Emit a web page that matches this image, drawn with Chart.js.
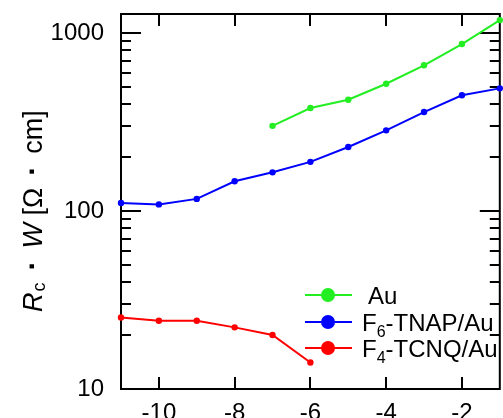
<!DOCTYPE html>
<html>
<head>
<meta charset="utf-8">
<title>Rc W vs x</title>
<script src="https://cdn.jsdelivr.net/npm/chart.js@4.4.1/dist/chart.umd.min.js"></script>
<style>
    html, body { margin: 0; padding: 0; background: #fff; }
    #wrap { width: 503px; height: 418px; position: relative; }
</style>
</head>
<body>
<div id="wrap"><canvas id="rcChart"></canvas></div>
<script>
// ==========================
// DATA
// ==========================
const auX = [-7, -6, -5, -4, -3, -2, -1];
const auY = [301, 379, 422, 519, 659, 868, 1183];

const tnapX = [-11, -10, -9, -8, -7, -6, -5, -4, -3, -2, -1];
const tnapY = [111, 109, 117, 147, 165, 189, 229, 284, 360, 447, 489];

const tcnqX = [-11, -10, -9, -8, -7, -6];
const tcnqY = [25.2, 24.2, 24.2, 22.2, 20.1, 14.1];

const seriesNames = ["Au", "F6-TNAP/Au", "F4-TCNQ/Au"];
const xTicks = [-10, -8, -6, -4, -2];
const yTicks = [10, 100, 1000];
const yMinorTicks = [20, 30, 40, 50, 60, 70, 80, 90, 200, 300, 400, 500, 600, 700, 800, 900];

const colors = ["#22ee22", "#0000ff", "#ff0000"];
const FONT = "'Liberation Sans', Arial, sans-serif";

function toPoints(xs, ys) {
    return xs.map((x, i) => ({ x: x, y: ys[i] }));
}

// ==========================
// FRAME + INWARD TICKS
// ==========================
const framePlugin = {
    id: "frame",
    beforeDatasetsDraw(chart) {
        const ctx = chart.ctx;
        const a = chart.chartArea;
        const xs = chart.scales.x;
        const ys = chart.scales.y;
        ctx.save();
        ctx.strokeStyle = "#000";
        ctx.lineWidth = 2;
        ctx.beginPath();
        xTicks.forEach(v => {
            const px = Math.round(xs.getPixelForValue(v));
            ctx.moveTo(px, a.bottom); ctx.lineTo(px, a.bottom - 12);
            ctx.moveTo(px, a.top); ctx.lineTo(px, a.top + 12);
        });
        yTicks.forEach(v => {
            const py = Math.round(ys.getPixelForValue(v));
            ctx.moveTo(a.left, py); ctx.lineTo(a.left + 20, py);
            ctx.moveTo(a.right, py); ctx.lineTo(a.right - 20, py);
        });
        yMinorTicks.forEach(v => {
            const py = Math.round(ys.getPixelForValue(v));
            ctx.moveTo(a.left, py); ctx.lineTo(a.left + 10, py);
            ctx.moveTo(a.right, py); ctx.lineTo(a.right - 10, py);
        });
        ctx.stroke();
        ctx.strokeRect(a.left, a.top, a.right - a.left, a.bottom - a.top);
        ctx.restore();
    }
};

// ==========================
// Y TITLE + LEGEND (subscripts)
// ==========================
function drawSubLabel(ctx, x, y, text, size) {
    // "F6-..." -> F, subscript 6, rest
    const m = text.match(/^([A-Za-z]+)(\d)(.*)$/);
    ctx.textBaseline = "alphabetic";
    ctx.font = size + "px " + FONT;
    if (!m) {
        ctx.fillText(text, x, y);
        return;
    }
    ctx.fillText(m[1], x, y);
    x += ctx.measureText(m[1]).width;
    ctx.font = Math.round(size * 0.68) + "px " + FONT;
    ctx.fillText(m[2], x, y + 6);
    x += ctx.measureText(m[2]).width;
    ctx.font = size + "px " + FONT;
    ctx.fillText(m[3], x, y);
}

const annotPlugin = {
    id: "annot",
    afterDraw(chart) {
        const ctx = chart.ctx;
        ctx.save();
        ctx.fillStyle = "#000";

        // y axis title, rotated
        ctx.translate(42, 312);
        ctx.rotate(-Math.PI / 2);
        ctx.textBaseline = "alphabetic";
        let u = 0;
        const gap = 12;
        ctx.font = "italic 27px " + FONT;
        ctx.fillText("R", u, 0);
        u += ctx.measureText("R").width + 1;
        ctx.font = "18px " + FONT;
        ctx.fillText("c", u, 3);
        u += ctx.measureText("c").width + gap;
        ctx.font = "bold 30px " + FONT;
        ctx.fillText("\u00b7", u, 0);
        u += ctx.measureText("\u00b7").width + gap;
        ctx.font = "italic 27px " + FONT;
        ctx.fillText("W", u, 0);
        u += ctx.measureText("W").width;
        ctx.font = "27px " + FONT;
        ctx.fillText(" [\u03a9", u, 0);
        u += ctx.measureText(" [\u03a9").width + gap;
        ctx.font = "bold 30px " + FONT;
        ctx.fillText("\u00b7", u, 0);
        u += ctx.measureText("\u00b7").width + gap;
        ctx.font = "27px " + FONT;
        ctx.fillText("cm]", u, 0);
        ctx.setTransform(1, 0, 0, 1, 0, 0);

        // legend
        const rows = [295, 322, 348];
        const textX = [368, 362, 362];
        seriesNames.forEach((name, i) => {
            const y = rows[i];
            ctx.strokeStyle = colors[i];
            ctx.lineWidth = 2;
            ctx.beginPath();
            ctx.moveTo(305, y); ctx.lineTo(352, y);
            ctx.stroke();
            ctx.fillStyle = colors[i];
            ctx.beginPath();
            ctx.arc(328, y, 7, 0, Math.PI * 2);
            ctx.fill();
            ctx.fillStyle = "#000";
            drawSubLabel(ctx, textX[i], y + 9, name, 24);
        });
        ctx.restore();
    }
};

// ==========================
// CHART
// ==========================
function makeDataset(label, xs, ys, color) {
    return {
        label: label,
        data: toPoints(xs, ys),
        borderColor: color,
        backgroundColor: color,
        borderWidth: 2,
        pointRadius: 3.2,
        pointHoverRadius: 3.2,
        pointBorderWidth: 0,
        tension: 0,
        clip: false
    };
}

const ctx = document.getElementById("rcChart");
new Chart(ctx, {
    type: "line",
    data: {
        datasets: [
            makeDataset(seriesNames[0], auX, auY, colors[0]),
            makeDataset(seriesNames[1], tnapX, tnapY, colors[1]),
            makeDataset(seriesNames[2], tcnqX, tcnqY, colors[2])
        ]
    },
    options: {
        responsive: true,
        maintainAspectRatio: false,
        animation: false,
        layout: { padding: { left: 0, top: 14, right: 1, bottom: 0 } },
        plugins: {
            legend: { display: false },
            tooltip: { enabled: false }
        },
        scales: {
            x: {
                type: "linear",
                min: -11,
                max: -1,
                afterBuildTicks: s => { s.ticks = xTicks.map(v => ({ value: v })); },
                afterFit: s => { s.height = 29; s.paddingLeft = 0; s.paddingRight = 0; },
                grid: { display: false, drawTicks: false },
                border: { display: false },
                ticks: {
                    color: "#000",
                    padding: 10,
                    maxRotation: 0,
                    font: { family: FONT, size: 24 }
                }
            },
            y: {
                type: "logarithmic",
                min: 10,
                max: 1280,
                afterBuildTicks: s => { s.ticks = yTicks.map(v => ({ value: v })); },
                afterFit: s => { s.width = 121; s.paddingTop = 0; s.paddingBottom = 0; },
                grid: { display: false, drawTicks: false },
                border: { display: false },
                ticks: {
                    color: "#000",
                    padding: 17,
                    font: { family: FONT, size: 24 },
                    callback: v => String(v)
                }
            }
        }
    },
    plugins: [framePlugin, annotPlugin]
});
</script>
</body>
</html>
